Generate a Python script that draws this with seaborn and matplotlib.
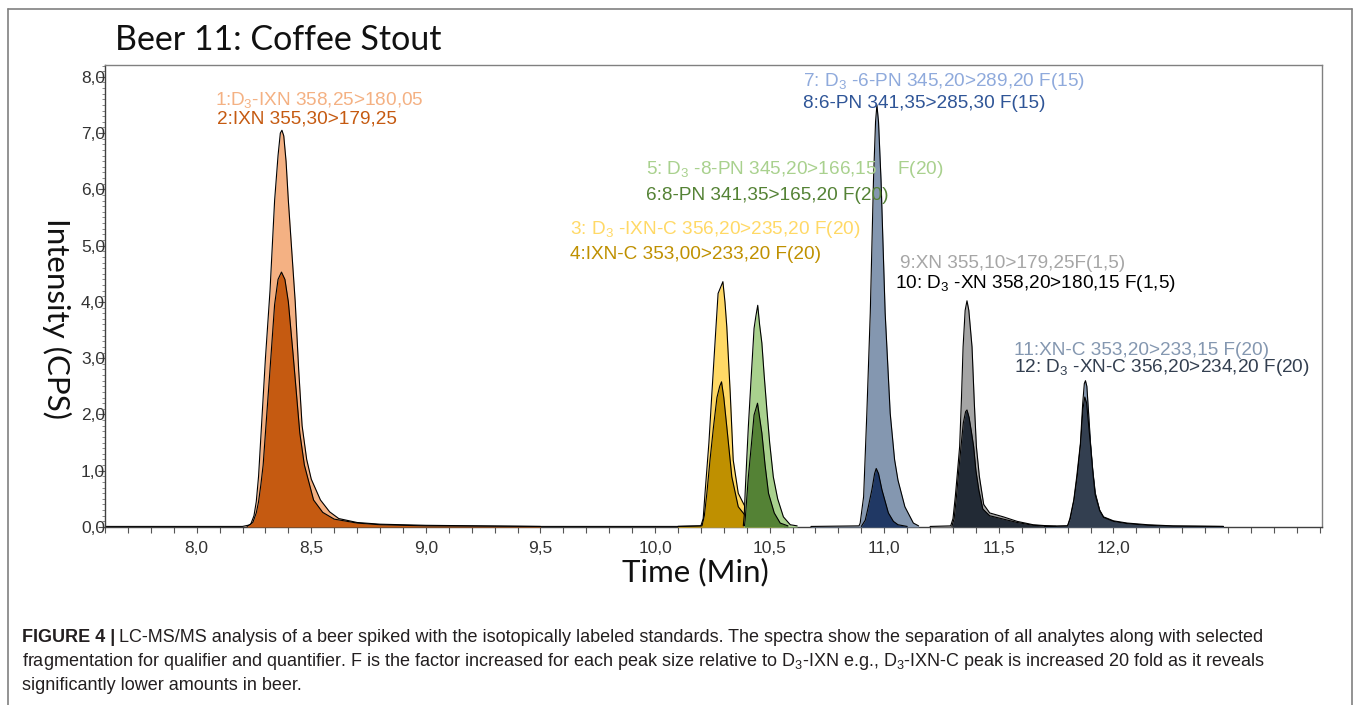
import numpy as np
import pandas as pd
import seaborn as sns
import matplotlib.pyplot as plt
from matplotlib.lines import Line2D
from matplotlib.ticker import MultipleLocator, FuncFormatter

# --- chromatogram traces (time in min, intensity) ---
t_d3_ixn = [7.60, 8.20, 8.235, 8.25, 8.26, 8.27, 8.28, 8.30, 8.32, 8.34, 8.355, 8.365, 8.372, 8.38, 8.39,
            8.40, 8.415, 8.43, 8.445, 8.46, 8.48, 8.50, 8.54, 8.58, 8.62, 8.70, 8.80, 9.00, 9.50, 10.20]
i_d3_ixn = [0.01, 0.01, 0.04, 0.20, 0.45, 0.90, 1.60, 3.00, 4.20, 5.80, 6.60, 7.00, 7.05, 6.95, 6.50,
            5.80, 4.90, 4.00, 2.80, 1.80, 1.20, 0.85, 0.48, 0.27, 0.15, 0.08, 0.05, 0.03, 0.01, 0.01]

t_ixn = [8.22, 8.245, 8.26, 8.27, 8.28, 8.29, 8.30, 8.32, 8.34, 8.355, 8.37, 8.385, 8.40, 8.42, 8.45,
         8.47, 8.51, 8.55, 8.60, 8.70, 8.80, 9.00, 9.50]
i_ixn = [0.01, 0.08, 0.25, 0.45, 0.75, 1.10, 1.67, 2.80, 3.95, 4.40, 4.53, 4.40, 4.00, 3.10, 1.67,
         1.10, 0.48, 0.26, 0.14, 0.07, 0.04, 0.02, 0.01]

t_d3_ixnc = [10.10, 10.20, 10.21, 10.218, 10.235, 10.248, 10.265, 10.275, 10.285, 10.296, 10.305, 10.313,
             10.328, 10.341, 10.363, 10.40, 10.444, 10.50, 10.56]
i_d3_ixnc = [0.01, 0.02, 0.15, 0.60, 1.50, 2.38, 3.50, 4.15, 4.25, 4.36, 4.00, 3.56,
             2.38, 1.19, 0.60, 0.30, 0.12, 0.04, 0.02]

t_ixnc = [10.10, 10.205, 10.215, 10.226, 10.24, 10.255, 10.27, 10.282, 10.29, 10.30, 10.313, 10.335,
          10.363, 10.40, 10.46, 10.52]
i_ixnc = [0.01, 0.02, 0.20, 0.60, 1.20, 1.78, 2.30, 2.50, 2.58, 2.30, 1.78, 0.89,
          0.36, 0.17, 0.07, 0.02]

t_d3_8pn = [10.385, 10.389, 10.393, 10.40, 10.407, 10.42, 10.432, 10.44, 10.448, 10.456, 10.466, 10.476,
            10.488, 10.50, 10.516, 10.535, 10.56, 10.59, 10.62]
i_d3_8pn = [0.02, 0.20, 0.60, 1.20, 1.78, 2.70, 3.53, 3.75, 3.94, 3.60, 3.27, 2.70,
            2.08, 1.50, 0.89, 0.50, 0.18, 0.04, 0.02]

t_8pn = [10.39, 10.393, 10.40, 10.407, 10.42, 10.432, 10.44, 10.447, 10.456, 10.466, 10.48, 10.495,
         10.52, 10.546, 10.58]
i_8pn = [0.02, 0.12, 0.50, 0.89, 1.45, 1.99, 2.10, 2.20, 1.95, 1.67, 1.10, 0.60,
         0.25, 0.07, 0.02]

t_d3_6pn = [10.68, 10.89, 10.895, 10.91, 10.924, 10.939, 10.953, 10.962, 10.968, 10.975, 10.986, 11.004,
            11.026, 11.045, 11.06, 11.09, 11.127, 11.15]
i_d3_6pn = [0.01, 0.02, 0.07, 0.54, 2.02, 3.80, 6.16, 7.20, 7.50, 7.20, 6.16, 3.80,
            2.02, 1.20, 0.83, 0.36, 0.07, 0.02]

t_6pn = [10.90, 10.917, 10.93, 10.946, 10.958, 10.965, 10.975, 10.99, 11.018, 11.04, 11.06, 11.10]
i_6pn = [0.01, 0.12, 0.35, 0.66, 0.95, 1.04, 0.95, 0.66, 0.25, 0.10, 0.04, 0.01]

t_xn = [11.20, 11.29, 11.30, 11.31, 11.32, 11.329, 11.337, 11.344, 11.353, 11.361, 11.369, 11.383,
        11.393, 11.402, 11.415, 11.434, 11.46, 11.52, 11.58, 11.65, 11.75]
i_xn = [0.01, 0.02, 0.15, 0.54, 1.00, 1.43, 2.30, 3.20, 3.85, 4.02, 3.85, 3.20,
        2.20, 1.43, 0.90, 0.40, 0.25, 0.18, 0.10, 0.04, 0.01]

t_d3_xn = [11.295, 11.305, 11.315, 11.325, 11.335, 11.345, 11.355, 11.361, 11.37, 11.38, 11.39, 11.40,
           11.413, 11.43, 11.46, 11.52, 11.58, 11.65, 11.75]
i_d3_xn = [0.01, 0.15, 0.54, 1.00, 1.43, 1.85, 2.05, 2.08, 1.95, 1.70, 1.43, 1.00,
           0.65, 0.32, 0.20, 0.14, 0.08, 0.03, 0.01]

t_xnc = [11.70, 11.80, 11.81, 11.827, 11.84, 11.856, 11.866, 11.873, 11.878, 11.884, 11.892, 11.90,
         11.91, 11.921, 11.94, 11.957, 12.00, 12.06, 12.15, 12.26, 12.48]
i_xnc = [0.01, 0.02, 0.15, 0.48, 0.90, 1.49, 2.20, 2.55, 2.60, 2.50, 2.00, 1.49,
         1.00, 0.60, 0.30, 0.18, 0.11, 0.07, 0.04, 0.02, 0.01]

t_d3_xnc = [11.70, 11.80, 11.812, 11.828, 11.842, 11.857, 11.867, 11.875, 11.883, 11.891, 11.90, 11.91,
            11.92, 11.94, 11.957, 12.00, 12.06, 12.15, 12.26, 12.48]
i_d3_xnc = [0.01, 0.02, 0.15, 0.48, 0.90, 1.49, 2.10, 2.31, 2.20, 1.85, 1.45, 0.98,
            0.58, 0.29, 0.17, 0.10, 0.06, 0.03, 0.015, 0.01]

# drawing order: larger trace of each pair first
traces = [
    ("D3-IXN", t_d3_ixn, i_d3_ixn, "#F4B183"),
    ("IXN", t_ixn, i_ixn, "#C55A11"),
    ("D3-IXN-C", t_d3_ixnc, i_d3_ixnc, "#FFD966"),
    ("IXN-C", t_ixnc, i_ixnc, "#BF9000"),
    ("D3-8-PN", t_d3_8pn, i_d3_8pn, "#A9D18E"),
    ("8-PN", t_8pn, i_8pn, "#548235"),
    ("D3-6-PN", t_d3_6pn, i_d3_6pn, "#8497B0"),
    ("6-PN", t_6pn, i_6pn, "#203864"),
    ("XN", t_xn, i_xn, "#A5A5A5"),
    ("D3-XN", t_d3_xn, i_d3_xn, "#222A35"),
    ("XN-C", t_xnc, i_xnc, "#8497B0"),
    ("D3-XN-C", t_d3_xnc, i_d3_xnc, "#333F50"),
]

peak_labels = [
    "1:D$_3$-IXN 358,25>180,05",
    "2:IXN 355,30>179,25",
    "3: D$_3$ -IXN-C 356,20>235,20 F(20)",
    "4:IXN-C 353,00>233,20 F(20)",
    "5: D$_3$ -8-PN 345,20>166,15    F(20)",
    "6:8-PN 341,35>165,20 F(20)",
    "7: D$_3$ -6-PN 345,20>289,20 F(15)",
    "8:6-PN 341,35>285,30 F(15)",
    "9:XN 355,10>179,25F(1,5)",
    "10: D$_3$ -XN 358,20>180,15 F(1,5)",
    "11:XN-C 353,20>233,15 F(20)",
    "12: D$_3$ -XN-C 356,20>234,20 F(20)",
]
label_colors = ["#F4B183", "#C55A11", "#FFD966", "#BF9000", "#A9D18E", "#548235",
                "#8FAADC", "#2F5597", "#A6A6A6", "#000000", "#8497B0", "#333F50"]
# label anchor positions in pixels (left, centre)
label_px = [(215, 100), (217, 119), (570, 229), (570, 254), (646, 170), (646, 196),
            (803, 82), (803, 103), (900, 263), (895, 284), (1014, 350), (1014, 367)]

W, H = 1358, 705

sns.set_style("ticks")
plt.rcParams['font.family'] = ['Liberation Sans', 'DejaVu Sans']
plt.rcParams['mathtext.default'] = 'regular'

fig = plt.figure(figsize=(W / 100, H / 100), dpi=100)
ax = fig.add_axes([105 / W, 1 - 527 / H, (1322 - 105) / W, (527 - 65) / H])

z = 2
for name, t, inten, col in traces:
    df = pd.DataFrame({"time": t, "intensity": inten})
    ax.fill_between(df["time"], df["intensity"], 0, color=col, lw=0, zorder=z)
    sns.lineplot(data=df, x="time", y="intensity", color="black", lw=0.8,
                 sort=False, estimator=None, ax=ax, zorder=z + 0.5)
    z += 1

ax.set_xlim(7.6, 12.91)
ax.set_ylim(0, 8.21)
ax.set_xlabel("")
ax.set_ylabel("")

ax.xaxis.set_major_locator(MultipleLocator(0.5))
ax.xaxis.set_minor_locator(MultipleLocator(0.1))
ax.yaxis.set_major_locator(MultipleLocator(1.0))
ax.yaxis.set_minor_locator(MultipleLocator(0.1))
comma = FuncFormatter(lambda v, p: f"{v:.1f}".replace(".", ","))
ax.xaxis.set_major_formatter(comma)
ax.yaxis.set_major_formatter(comma)
ax.tick_params(axis="x", which="both", direction="out", length=4, width=0.8,
               color="#555555", labelsize=12.5, labelcolor="#333333", pad=6)
ax.tick_params(axis="y", which="major", direction="out", length=5, width=0.8,
               color="#555555", labelsize=12.5, labelcolor="#333333", pad=-5)
ax.tick_params(axis="y", which="minor", direction="out", length=2.5, width=0.6, color="#777777")
for lab in ax.get_xticklabels():
    if lab.get_text() in ("7,5", "12,5"):
        lab.set_visible(False)
for sp in ax.spines.values():
    sp.set_visible(True)
    sp.set_color("#808080")
    sp.set_linewidth(1.0)
ax.spines["left"].set_color("#404040")
ax.spines["bottom"].set_color("#404040")

for txt, col, (px, py) in zip(peak_labels, label_colors, label_px):
    fig.text(px / W, 1 - py / H, txt, color=col, fontsize=13.7, ha="left", va="center")

fig.text(115 / W, 1 - 40 / H, "Beer 11: Coffee Stout", fontsize=24.5, family=["Lato", "DejaVu Sans"],
         ha="left", va="center", color="#111111")
fig.text(695 / W, 1 - 572 / H, "Time (Min)", fontsize=22.5, family=["Lato", "DejaVu Sans"],
         ha="center", va="center", color="#111111")
fig.text(57 / W, 1 - 318 / H, "Intensity (CPS)", fontsize=22.5, family=["Lato", "DejaVu Sans"],
         rotation=270, ha="center", va="center", color="#111111")

# outer frame (no bottom edge, cropped)
for xs, ys in [((8, 8), (9, H)), ((1352, 1352), (9, H)), ((8, 1352), (9, 9))]:
    fig.add_artist(Line2D([x / W for x in xs], [1 - y / H for y in ys], color="#808080", lw=1.2))

# caption
cap_size = 13
cap_col = "#231F20"
bold = fig.text(22 / W, 1 - 637 / H, "FIGURE 4 |", fontsize=cap_size, weight="bold",
                color=cap_col, ha="left", va="center")
fig.canvas.draw()
bb = bold.get_window_extent()
fig.text(bb.x1 / W + 4 / W, 1 - 637 / H,
         "LC-MS/MS analysis of a beer spiked with the isotopically labeled standards. The spectra show the "
         "separation of all analytes along with selected",
         fontsize=cap_size, color=cap_col, ha="left", va="center")
fig.text(22 / W, 1 - 661 / H,
         "fragmentation for qualifier and quantifier. F is the factor increased for each peak size relative to "
         "D$_3$-IXN e.g., D$_3$-IXN-C peak is increased 20 fold as it reveals",
         fontsize=cap_size, color=cap_col, ha="left", va="center")
fig.text(22 / W, 1 - 685 / H, "significantly lower amounts in beer.",
         fontsize=cap_size, color=cap_col, ha="left", va="center")

fig.savefig("out.png", dpi=100)
